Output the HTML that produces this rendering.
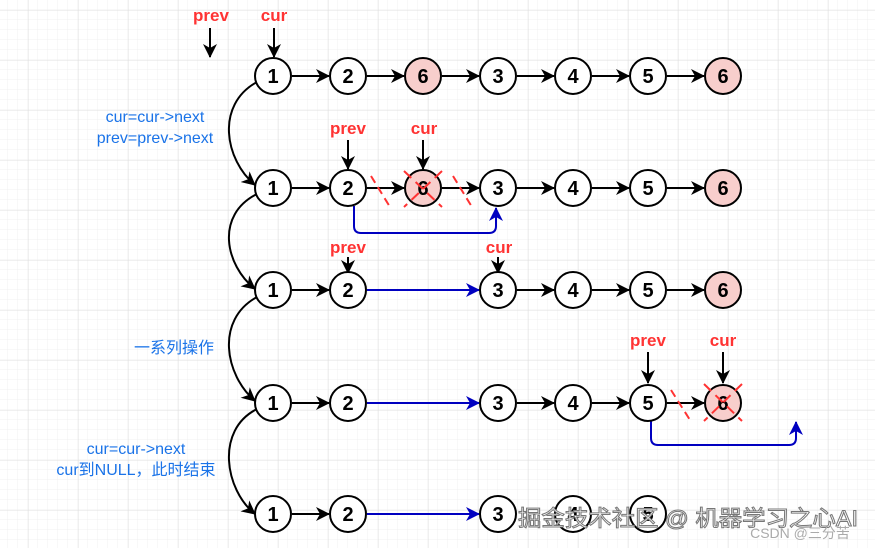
<!DOCTYPE html>
<html><head><meta charset="utf-8"><style>
html,body{margin:0;padding:0;background:#fff}
svg{display:block}
</style></head><body>
<svg width="875" height="548" viewBox="0 0 875 548" xmlns="http://www.w3.org/2000/svg" font-family="Liberation Sans, Noto Sans CJK SC, sans-serif">
<defs>
<pattern id="minor" width="10" height="10" patternUnits="userSpaceOnUse" x="8" y="0">
<path d="M10 0V10M0 10H10" stroke="#f1f1f1" stroke-width="1" fill="none"/>
</pattern>
<pattern id="major" width="50" height="50" patternUnits="userSpaceOnUse" x="28" y="10">
<path d="M0 0V50M0 0H50" stroke="#e0e0e0" stroke-width="1" fill="none"/>
</pattern>
<marker id="ab2" markerWidth="14" markerHeight="14" refX="13" refY="7" orient="auto" markerUnits="userSpaceOnUse"><path d="M0,0 L14,7 L0,14 L4,7 Z" fill="#000"/></marker>
<marker id="abl" markerWidth="14" markerHeight="14" refX="13" refY="7" orient="auto" markerUnits="userSpaceOnUse"><path d="M0,0 L14,7 L0,14 L4,7 Z" fill="#0000c0"/></marker>
</defs>
<rect width="875" height="548" fill="url(#minor)"/>
<rect width="875" height="548" fill="url(#major)"/>

<g fill="none" stroke="#000" stroke-width="2">
<line x1="210" y1="28" x2="210" y2="57" marker-end="url(#ab2)"/>
<line x1="274" y1="28" x2="274" y2="57" marker-end="url(#ab2)"/>
<path d="M257,82 C215,105 225,160 255,185" marker-end="url(#ab2)"/>
<path d="M257,194 C215,215 225,265 255,289" marker-end="url(#ab2)"/>
<path d="M257,297 C215,320 225,375 255,401" marker-end="url(#ab2)"/>
<path d="M257,409 C215,430 225,490 255,514" marker-end="url(#ab2)"/>
<line x1="292" y1="76" x2="329" y2="76" marker-end="url(#ab2)"/>
<line x1="367" y1="76" x2="404" y2="76" marker-end="url(#ab2)"/>
<line x1="442" y1="76" x2="479" y2="76" marker-end="url(#ab2)"/>
<line x1="517" y1="76" x2="554" y2="76" marker-end="url(#ab2)"/>
<line x1="592" y1="76" x2="629" y2="76" marker-end="url(#ab2)"/>
<line x1="667" y1="76" x2="704" y2="76" marker-end="url(#ab2)"/>
<line x1="348" y1="140" x2="348" y2="169" marker-end="url(#ab2)"/>
<line x1="423" y1="140" x2="423" y2="169" marker-end="url(#ab2)"/>
<line x1="292" y1="188" x2="329" y2="188" marker-end="url(#ab2)"/>
<line x1="367" y1="188" x2="404" y2="188" marker-end="url(#ab2)"/>
<line x1="442" y1="188" x2="479" y2="188" marker-end="url(#ab2)"/>
<line x1="517" y1="188" x2="554" y2="188" marker-end="url(#ab2)"/>
<line x1="592" y1="188" x2="629" y2="188" marker-end="url(#ab2)"/>
<line x1="667" y1="188" x2="704" y2="188" marker-end="url(#ab2)"/>
<line x1="348" y1="257" x2="348" y2="273" marker-end="url(#ab2)"/>
<line x1="498" y1="257" x2="498" y2="273" marker-end="url(#ab2)"/>
<line x1="292" y1="290" x2="329" y2="290" marker-end="url(#ab2)"/>
<line x1="517" y1="290" x2="554" y2="290" marker-end="url(#ab2)"/>
<line x1="592" y1="290" x2="629" y2="290" marker-end="url(#ab2)"/>
<line x1="667" y1="290" x2="704" y2="290" marker-end="url(#ab2)"/>
<line x1="648" y1="352" x2="648" y2="383" marker-end="url(#ab2)"/>
<line x1="723" y1="352" x2="723" y2="383" marker-end="url(#ab2)"/>
<line x1="292" y1="403" x2="329" y2="403" marker-end="url(#ab2)"/>
<line x1="517" y1="403" x2="554" y2="403" marker-end="url(#ab2)"/>
<line x1="592" y1="403" x2="629" y2="403" marker-end="url(#ab2)"/>
<line x1="667" y1="403" x2="704" y2="403" marker-end="url(#ab2)"/>
<line x1="292" y1="514" x2="329" y2="514" marker-end="url(#ab2)"/>
</g>
<g fill="none" stroke="#0000c0" stroke-width="2">
<path d="M354,206 V226 Q354,233 361,233 H489 Q496,233 496,226 V208" marker-end="url(#abl)"/>
<line x1="367" y1="290" x2="479" y2="290" marker-end="url(#abl)"/>
<line x1="367" y1="403" x2="479" y2="403" marker-end="url(#abl)"/>
<line x1="367" y1="514" x2="479" y2="514" marker-end="url(#abl)"/>
<path d="M651,421 V438 Q651,445 658,445 H789 Q796,445 796,438 V422" marker-end="url(#abl)"/>
</g>
<g stroke="#000" stroke-width="2" font-size="20" font-weight="bold" text-anchor="middle">
<g fill="#fff">
<circle cx="273" cy="76" r="18"/><circle cx="348" cy="76" r="18"/><circle cx="498" cy="76" r="18"/><circle cx="573" cy="76" r="18"/><circle cx="648" cy="76" r="18"/>
<circle cx="273" cy="188" r="18"/><circle cx="348" cy="188" r="18"/><circle cx="498" cy="188" r="18"/><circle cx="573" cy="188" r="18"/><circle cx="648" cy="188" r="18"/>
<circle cx="273" cy="290" r="18"/><circle cx="348" cy="290" r="18"/><circle cx="498" cy="290" r="18"/><circle cx="573" cy="290" r="18"/><circle cx="648" cy="290" r="18"/>
<circle cx="273" cy="403" r="18"/><circle cx="348" cy="403" r="18"/><circle cx="498" cy="403" r="18"/><circle cx="573" cy="403" r="18"/><circle cx="648" cy="403" r="18"/>
<circle cx="273" cy="514" r="18"/><circle cx="348" cy="514" r="18"/><circle cx="498" cy="514" r="18"/><circle cx="573" cy="514" r="18"/><circle cx="648" cy="514" r="18"/>
</g>
<g fill="#f8cecc">
<circle cx="423" cy="76" r="18"/><circle cx="723" cy="76" r="18"/>
<circle cx="423" cy="188" r="18"/><circle cx="723" cy="188" r="18"/>
<circle cx="723" cy="290" r="18"/><circle cx="723" cy="403" r="18"/>
</g>
<g stroke="none" fill="#000">
<text x="273" y="83">1</text><text x="348" y="83">2</text><text x="423" y="83">6</text><text x="498" y="83">3</text><text x="573" y="83">4</text><text x="648" y="83">5</text><text x="723" y="83">6</text>
<text x="273" y="195">1</text><text x="348" y="195">2</text><text x="423" y="195">6</text><text x="498" y="195">3</text><text x="573" y="195">4</text><text x="648" y="195">5</text><text x="723" y="195">6</text>
<text x="273" y="297">1</text><text x="348" y="297">2</text><text x="498" y="297">3</text><text x="573" y="297">4</text><text x="648" y="297">5</text><text x="723" y="297">6</text>
<text x="273" y="410">1</text><text x="348" y="410">2</text><text x="498" y="410">3</text><text x="573" y="410">4</text><text x="648" y="410">5</text><text x="723" y="410">6</text>
<text x="273" y="521">1</text><text x="348" y="521">2</text><text x="498" y="521">3</text><text x="573" y="521">4</text><text x="648" y="521">5</text>
</g>
</g>
<g stroke="#ff3333" stroke-width="2" fill="none">
<line x1="371" y1="176" x2="390" y2="207" stroke-dasharray="8,5"/>
<line x1="453" y1="176" x2="472" y2="207" stroke-dasharray="8,5"/>
<line x1="404" y1="171" x2="442" y2="207" stroke-dasharray="10,6"/>
<line x1="442" y1="171" x2="404" y2="207" stroke-dasharray="10,6"/>
<line x1="671" y1="390" x2="690" y2="420" stroke-dasharray="8,5"/>
<line x1="704" y1="384" x2="742" y2="421" stroke-dasharray="10,6"/>
<line x1="742" y1="384" x2="704" y2="421" stroke-dasharray="10,6"/>
</g>
<g fill="#ff3333" font-size="17" font-weight="bold" text-anchor="middle">
<text x="211" y="21">prev</text><text x="274" y="21">cur</text>
<text x="348" y="134">prev</text><text x="424" y="134">cur</text>
<text x="348" y="253">prev</text><text x="499" y="253">cur</text>
<text x="648" y="346">prev</text><text x="723" y="346">cur</text>
</g>
<g fill="#1a73e8" font-size="16" text-anchor="middle">
<text x="155" y="122">cur=cur-&gt;next</text>
<text x="155" y="143">prev=prev-&gt;next</text>
<text x="174" y="353">一系列操作</text>
<text x="136" y="454">cur=cur-&gt;next</text>
<text x="136" y="475">cur到NULL，此时结束</text>
</g>
<text x="688" y="526" font-size="22" fill="#fff" stroke="#777" stroke-width="1" text-anchor="middle" textLength="340" lengthAdjust="spacingAndGlyphs">掘金技术社区 @ 机器学习之心AI</text>
<text x="800" y="538" font-size="14" fill="#aaa" text-anchor="middle">CSDN @三分苦</text>
</svg>
</body></html>
